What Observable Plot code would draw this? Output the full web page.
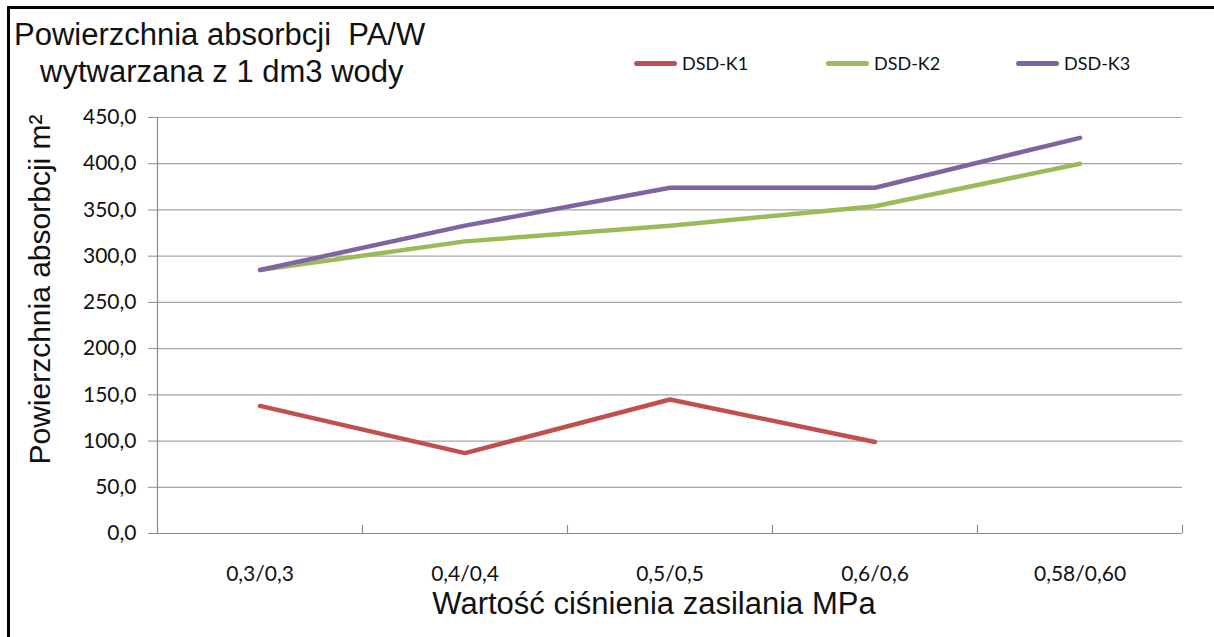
<!DOCTYPE html>
<html>
<head>
<meta charset="utf-8">
<script src="https://cdn.jsdelivr.net/npm/d3@7"></script>
<script src="https://cdn.jsdelivr.net/npm/@observablehq/plot@0.6"></script>
<style>
  html, body { margin: 0; padding: 0; background: #fff; }
  #wrap { position: relative; width: 1214px; height: 637px; overflow: hidden; background: #fff; }
  #border { position: absolute; left: 7px; top: 6px; width: 1400px; height: 800px; border: 3px solid #000; box-sizing: border-box; pointer-events: none; }
  .title { position: absolute; font-family: "Liberation Sans", Arial, sans-serif; font-size: 31px; color: #111; white-space: nowrap; line-height: 1; }
  .leg { position: absolute; top: 52px; font-family: Lato, "Open Sans", sans-serif; font-size: 18px; color: #111; display: flex; align-items: center; white-space: nowrap; }
  .sw { width: 43px; height: 5px; border-radius: 3px; margin-right: 5px; }
  #chart { position: absolute; left: 0; top: 0; }
</style>
</head>
<body>
<div id="wrap">
  <div id="chart"></div>
  <div class="title" style="left:14px; top:19px;">Powierzchnia absorbcji&nbsp; PA/W</div>
  <div class="title" style="left:40px; top:56px;">wytwarzana z 1 dm3 wody</div>
  <div id="legend"></div>
  <div id="border"></div>
</div>
<script>
const categories = ["0,3/0,3", "0,4/0,4", "0,5/0,5", "0,6/0,6", "0,58/0,60"];
const seriesNames = ["DSD-K1", "DSD-K2", "DSD-K3"];
const k1 = [138, 87, 145, 99, null];
const k2 = [285, 316, 333, 354, 400];
const k3 = [285, 333, 374, 374, 428];
const seriesColors = ["#C0504D", "#9BBB59", "#8064A2"];
const yTicks = [0, 50, 100, 150, 200, 250, 300, 350, 400, 450];
const xLabel = "Wartość ciśnienia zasilania MPa";
const yLabel = "Powierzchnia absorbcji m²";

const seriesValues = [k1, k2, k3];
const data = [];
seriesValues.forEach((vals, s) => vals.forEach((v, i) => {
  if (v != null) data.push({i, value: v, series: seriesNames[s]});
}));
const idx = categories.map((_, i) => i);
const bounds = categories.map((_, i) => i + 0.5);
const fmt = d => d.toFixed(1).replace(".", ",");

const chart = Plot.plot({
  width: 1214,
  height: 637,
  marginTop: 117,
  marginBottom: 104,
  marginLeft: 157,
  marginRight: 32,
  style: {background: "transparent", overflow: "visible"},
  x: {type: "linear", domain: [-0.5, categories.length - 0.5], axis: null},
  y: {domain: [0, 450], axis: null},
  color: {domain: seriesNames, range: seriesColors},
  marks: [
    Plot.gridY(yTicks, {stroke: "#a6a6a6", strokeOpacity: 1, strokeWidth: 1.2}),
    Plot.axisY(yTicks, {label: null, tickSize: 9, tickPadding: 12, tickFormat: fmt, stroke: "#8c8c8c", fontSize: 21, fill: "#111", fontFamily: "Lato, 'Open Sans', sans-serif"}),
    Plot.ruleX([-0.5], {stroke: "#8c8c8c", strokeWidth: 1.2}),
    Plot.ruleY([0], {stroke: "#8c8c8c", strokeWidth: 1.2}),
    Plot.ruleX(bounds, {x: d => d, y1: 0, y2: 0, insetTop: -8, stroke: "#8c8c8c", strokeWidth: 1.2}),
    Plot.axisX(idx, {label: null, tickSize: 0, tickPadding: 33, tickFormat: i => categories[i], fontSize: 21, fill: "#111", fontFamily: "Lato, 'Open Sans', sans-serif"}),
    Plot.line(data, {x: "i", y: "value", z: "series", stroke: "series", strokeWidth: 4.5, strokeLinecap: "round", strokeLinejoin: "round"}),
    Plot.text([xLabel], {frameAnchor: "bottom", textAnchor: "middle", dx: -16, dy: 80, fontSize: 31, fill: "#111", fontFamily: "'Liberation Sans', Arial, sans-serif"}),
    Plot.text([yLabel], {frameAnchor: "left", textAnchor: "middle", rotate: -90, dx: -117, dy: -36, fontSize: 30, fill: "#111", fontFamily: "'Liberation Sans', Arial, sans-serif"})
  ]
});
document.getElementById("chart").appendChild(chart);

const legendPos = [634, 826, 1016];
const legend = document.getElementById("legend");
seriesNames.forEach((name, s) => {
  const item = document.createElement("div");
  item.className = "leg";
  item.style.left = legendPos[s] + "px";
  const sw = document.createElement("div");
  sw.className = "sw";
  sw.style.background = seriesColors[s];
  const t = document.createElement("span");
  t.textContent = name;
  item.appendChild(sw);
  item.appendChild(t);
  legend.appendChild(item);
});
</script>
</body>
</html>
